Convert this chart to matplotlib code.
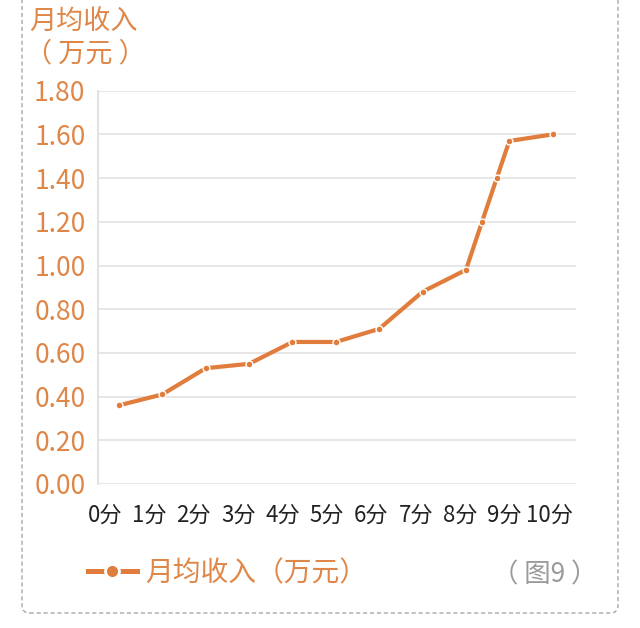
import matplotlib
matplotlib.use("Agg")
import matplotlib.pyplot as plt
from matplotlib.lines import Line2D
from matplotlib.patches import FancyBboxPatch

plt.rcParams['font.family'] = ['Noto Sans CJK SC', 'DejaVu Sans']

# Monthly income (10k yuan) by score
score_x = [0, 1, 2, 3, 4, 5, 6, 7, 8, 8.37, 8.71, 9, 10]
income = [0.36, 0.41, 0.53, 0.55, 0.65, 0.65, 0.71, 0.88, 0.98, 1.20, 1.40, 1.57, 1.60]
category_labels = ["0分", "1分", "2分", "3分", "4分", "5分", "6分", "7分", "8分", "9分", "10分"]
y_ticks = [0.0, 0.2, 0.4, 0.6, 0.8, 1.0, 1.2, 1.4, 1.6, 1.8]

series_name = "月均收入（万元）"
orange = "#E07D3C"
label_orange = "#DE8748"

W, H = 640, 628
fig = plt.figure(figsize=(W / 100, H / 100), dpi=100)
fig.patch.set_facecolor("white")

left, right = 98 / W, 576 / W
bottom, top = 1 - 484 / H, 1 - 90.7 / H
ax = fig.add_axes([left, bottom, right - left, top - bottom])

ax.plot(score_x, income, color=orange, lw=3.0, solid_capstyle="butt",
        marker="o", markersize=5, markerfacecolor=orange,
        markeredgecolor="white", markeredgewidth=1.0, zorder=3)

ax.set_xlim(-0.484, 10.537)
ax.set_ylim(0, 1.8)

ax.set_yticks(y_ticks)
ax.set_yticklabels([f"{v:.2f}" for v in y_ticks], color=label_orange, fontsize=19)
ax.yaxis.grid(True, color="#E3E3E3", lw=1.2)
ax.set_axisbelow(True)

# category labels sit slightly left of the data points
tick_pos = [-0.323 + 1.0238 * i for i in range(len(category_labels))]
ax.set_xticks(tick_pos)
ax.set_xticklabels(category_labels, fontsize=16, color="#222222")

ax.tick_params(axis="both", length=0)
ax.tick_params(axis="y", pad=9)
ax.tick_params(axis="x", pad=14)

for s in ["top", "right", "bottom"]:
    ax.spines[s].set_visible(False)
ax.spines["left"].set_color("#DDDDDD")
ax.spines["left"].set_linewidth(1.2)

# axis title in two lines at the top-left
fig.text(29 / W, 1 - 22 / H, "月均收入", color=label_orange, fontsize=19.5,
         ha="left", va="center")
fig.text(25 / W, 1 - 54 / H, "（ 万元 ）", color=label_orange, fontsize=19.5,
         ha="left", va="center")

# legend
handle = Line2D([0], [0], color=orange, lw=3.6, marker="o", markersize=10,
                markerfacecolor=orange, markeredgecolor="white", markeredgewidth=2)
leg = fig.legend([handle], [series_name], loc="center left",
                 bbox_to_anchor=(88 / W, 1 - 573 / H), frameon=False,
                 handlelength=1.75, handletextpad=0.3, fontsize=20,
                 borderaxespad=0, borderpad=0)
for t in leg.get_texts():
    t.set_color(label_orange)

fig.text(597 / W, 1 - 575 / H, "（ 图9 ）", color="#9A9A9A", fontsize=19,
         ha="right", va="center")

# dashed frame around the chart
frame = FancyBboxPatch((22 / W, 1 - 613 / H), (618 - 22) / W, 700 / H,
                       boxstyle="round,pad=0,rounding_size=0.012",
                       transform=fig.transFigure, facecolor="none",
                       edgecolor="#A8A8A8", lw=1.0, linestyle=(0, (3, 2)),
                       clip_on=False)
fig.patches.append(frame)

fig.savefig("out.png", dpi=100)
